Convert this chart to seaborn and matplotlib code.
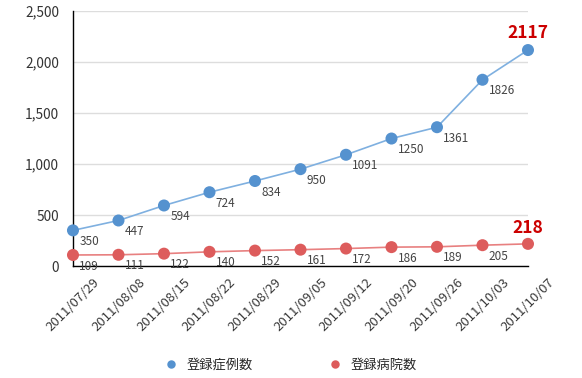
import pandas as pd
import matplotlib
matplotlib.use("Agg")
import matplotlib.pyplot as plt
import seaborn as sns

dates = ["2011/07/29", "2011/08/08", "2011/08/15", "2011/08/22", "2011/08/29", "2011/09/05",
         "2011/09/12", "2011/09/20", "2011/09/26", "2011/10/03", "2011/10/07"]
cases = [350, 447, 594, 724, 834, 950, 1091, 1250, 1361, 1826, 2117]
hospitals = [109, 111, 122, 140, 152, 161, 172, 186, 189, 205, 218]
series_names = ["登録症例数", "登録病院数"]

sns.set_style("white")
plt.rcParams['font.family'] = ['Noto Sans CJK JP', 'DejaVu Sans']

df = pd.DataFrame({
    "pos": list(range(len(dates))) * 2,
    "value": cases + hospitals,
    "series": [series_names[0]] * len(dates) + [series_names[1]] * len(dates),
})

blue = "#5592cf"
red = "#dd5c5c"
line_cols = {series_names[0]: "#7fb0e0", series_names[1]: "#e88080"}

fig = plt.figure(figsize=(5.82, 3.78), dpi=100)
ax = fig.add_axes([0.1254, 0.296, 0.7818, 0.675])

sns.lineplot(data=df, x="pos", y="value", hue="series", palette=line_cols, lw=1.2,
             legend=False, ax=ax, zorder=2)
sns.scatterplot(data=df, x="pos", y="value", hue="series",
                palette={series_names[0]: blue, series_names[1]: red},
                s=75, edgecolor="none", ax=ax, zorder=3, clip_on=False)

for vals in (cases, hospitals):
    for i, v in enumerate(vals[:-1]):
        ax.annotate(str(v), (i, v), xytext=(4.5, -8), textcoords="offset points",
                    ha="left", va="center", fontsize=8.5, color="#444444")
ax.annotate(str(cases[-1]), (len(dates) - 1, cases[-1]), xytext=(0, 6), textcoords="offset points",
            ha="center", va="bottom", fontsize=12.5, fontweight="bold", color="#cc0000")
ax.annotate(str(hospitals[-1]), (len(dates) - 1, hospitals[-1]), xytext=(0, 5), textcoords="offset points",
            ha="center", va="bottom", fontsize=12.5, fontweight="bold", color="#cc0000")

ax.set_xlim(0, len(dates) - 1)
ax.set_ylim(0, 2500)
ax.set_yticks(range(0, 2501, 500))
ax.set_yticklabels([f"{t:,}" for t in range(0, 2501, 500)], fontsize=9.8, color="#333333")
ax.set_xticks(range(len(dates)))
ax.set_xticklabels(dates, rotation=45, ha="center", va="top", fontsize=9.5, color="#3a3a3a")
ax.tick_params(axis="x", direction="in", length=3, width=0.8, color="#333333", pad=7)
ax.tick_params(axis="y", length=0, pad=10)
ax.grid(axis="y", color="#dddddd", lw=1)
ax.set_axisbelow(True)
ax.set_xlabel("")
ax.set_ylabel("")
for s in ["top", "right"]:
    ax.spines[s].set_visible(False)
for s in ["left", "bottom"]:
    ax.spines[s].set_color("black")
    ax.spines[s].set_linewidth(1)

handles, labels = ax.get_legend_handles_labels()
if ax.get_legend():
    ax.get_legend().remove()
fig.legend(handles, labels, loc="center", bbox_to_anchor=(0.5, 0.034), ncol=2, frameon=False,
           fontsize=9.5, columnspacing=5.8, handlelength=0.8, handletextpad=0.8, markerscale=0.7)

fig.savefig("out.png", dpi=100)
